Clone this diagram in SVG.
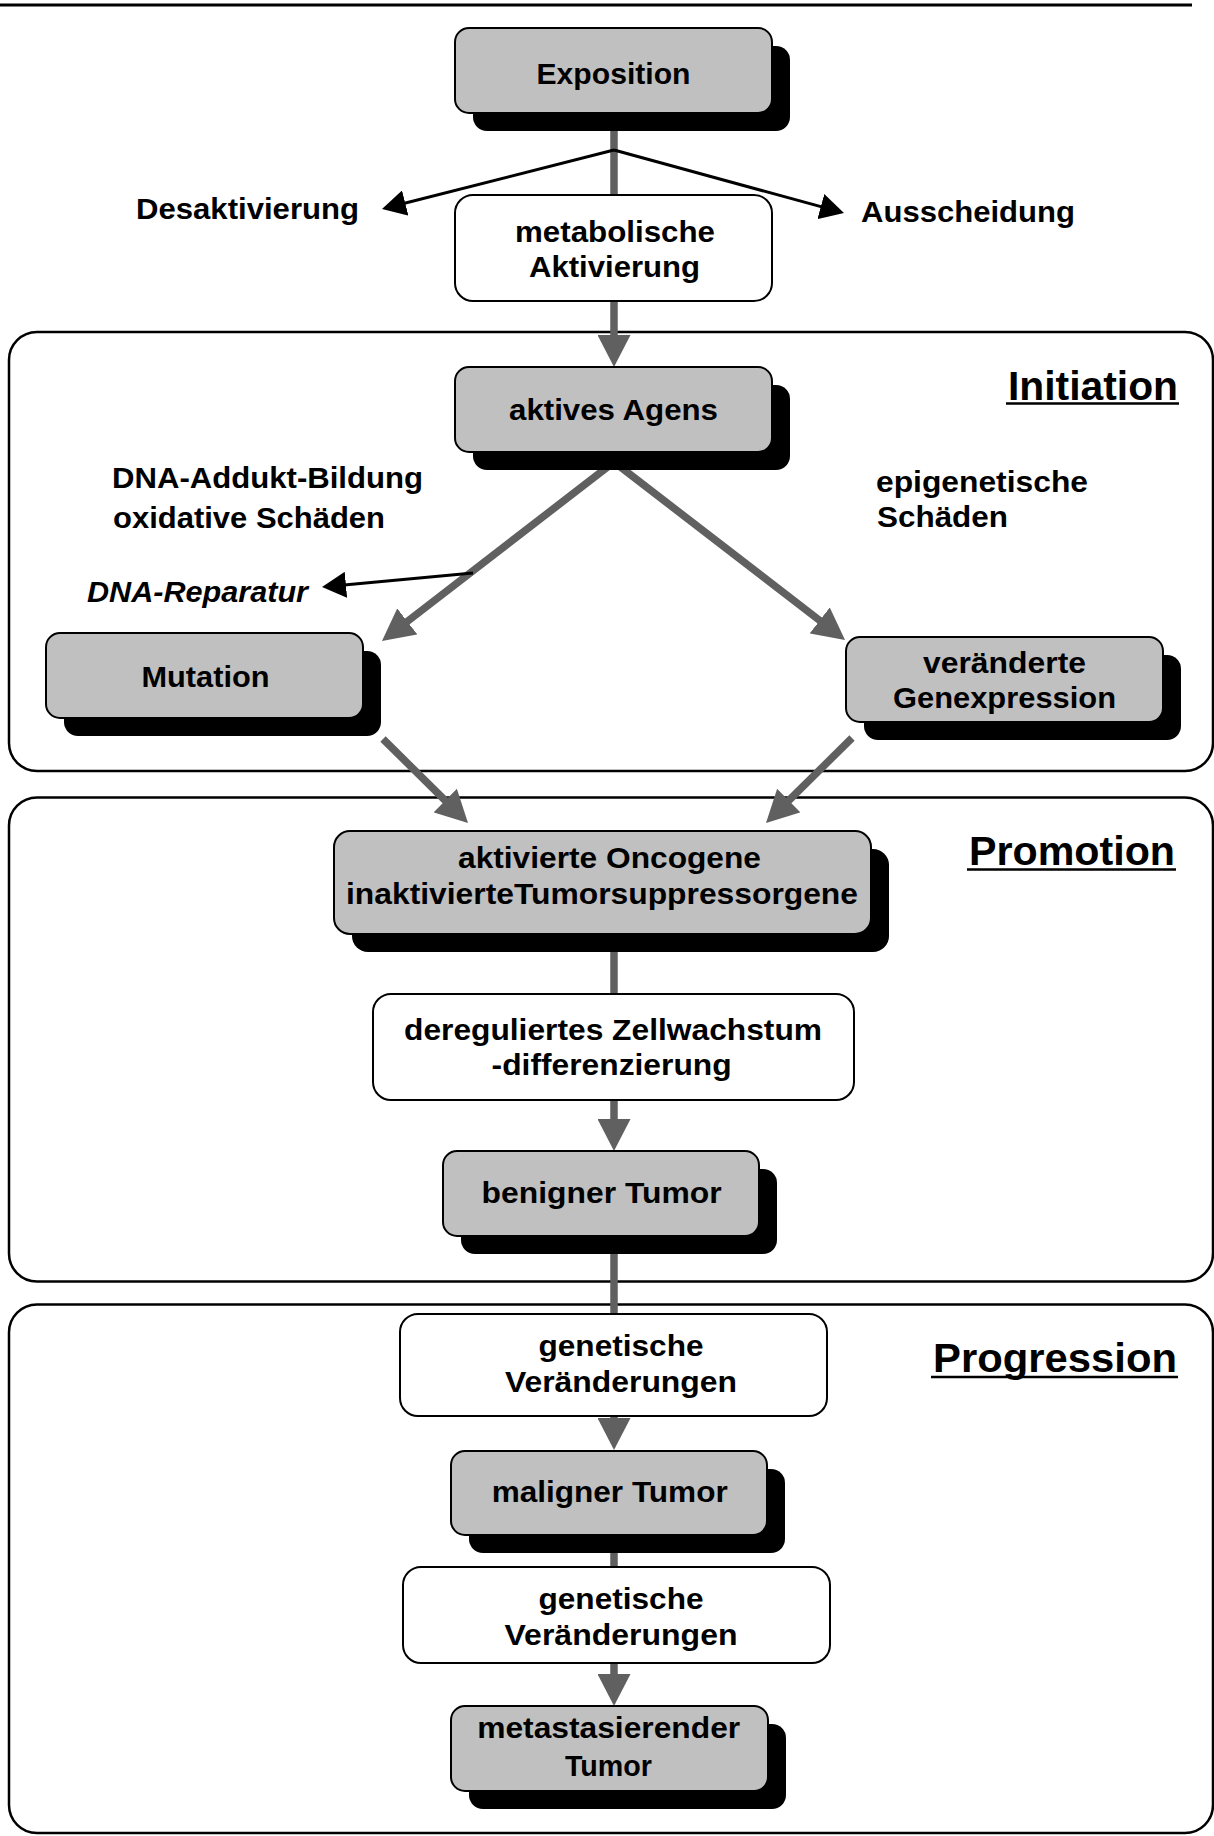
<svg xmlns="http://www.w3.org/2000/svg" width="1214" height="1836" viewBox="0 0 1214 1836">
<style>
.frame{fill:none;stroke:#000;stroke-width:2.5}
.box{fill:#c0c0c0;stroke:#000;stroke-width:2}
.wbox{fill:#fff;stroke:#000;stroke-width:2}
.shadow{fill:#000}
.g{stroke:#606060;stroke-width:7.5;fill:none}
.k{stroke:#000;stroke-width:3;fill:none}
text{font-family:"Liberation Sans",Arial,sans-serif;font-weight:bold;font-size:30px;fill:#000}
.c{text-anchor:middle}
.lbl{font-size:40px}
.it{font-style:italic}
</style>
<defs>
<marker id="ag" markerUnits="userSpaceOnUse" viewBox="0 0 32 33" markerWidth="32" markerHeight="33" refX="22" refY="16.5" orient="auto"><path d="M0,0 L32,16.5 L0,33 z" fill="#606060"/></marker>
<marker id="ak" markerUnits="userSpaceOnUse" viewBox="0 0 24 26" markerWidth="24" markerHeight="26" refX="18" refY="13" orient="auto"><path d="M0,0 L24,13 L0,26 z" fill="#000"/></marker>
</defs>
<rect width="1214" height="1836" fill="#fff"/>
<line x1="0" y1="5" x2="1192" y2="5" stroke="#000" stroke-width="3"/>
<g id="frames">
<rect id="frame-initiation" class="frame" x="9" y="332" width="1204" height="439" rx="28"/>
<rect id="frame-promotion" class="frame" x="9" y="797.5" width="1204" height="484" rx="28"/>
<rect id="frame-progression" class="frame" x="9" y="1304.5" width="1204" height="528.5" rx="28"/>
<g id="label-initiation"><text class="lbl" x="1008" y="400" textLength="170" lengthAdjust="spacingAndGlyphs">Initiation</text><line x1="1006" y1="403.5" x2="1179" y2="403.5" stroke="#000" stroke-width="2.5"/></g>
<g id="label-promotion"><text class="lbl" x="969" y="865" textLength="206" lengthAdjust="spacingAndGlyphs">Promotion</text><line x1="967" y1="869.5" x2="1176" y2="869.5" stroke="#000" stroke-width="2.5"/></g>
<g id="label-progression"><text class="lbl" x="933" y="1372" textLength="244" lengthAdjust="spacingAndGlyphs">Progression</text><line x1="931" y1="1377" x2="1178" y2="1377" stroke="#000" stroke-width="2.5"/></g>
</g>
<g id="connectors">
<line class="g" x1="614" y1="113" x2="614" y2="357" marker-end="url(#ag)"/>
<line class="k" x1="614" y1="150" x2="387.8" y2="207.5" marker-end="url(#ak)"/>
<line class="k" x1="614" y1="150" x2="838.2" y2="211.4" marker-end="url(#ak)"/>
<line class="g" x1="614" y1="462" x2="389.9" y2="634.9" marker-end="url(#ag)"/>
<line class="g" x1="614" y1="462" x2="837.1" y2="633.9" marker-end="url(#ag)"/>
<line class="k" x1="473" y1="573" x2="328" y2="586.4" marker-end="url(#ak)"/>
<line class="g" x1="383" y1="739" x2="460.9" y2="816" marker-end="url(#ag)"/>
<line class="g" x1="852" y1="738" x2="773.1" y2="816" marker-end="url(#ag)"/>
<line class="g" x1="614" y1="934" x2="614" y2="1141" marker-end="url(#ag)"/>
<line class="g" x1="614" y1="1236" x2="614" y2="1440" marker-end="url(#ag)"/>
<line class="g" x1="614" y1="1535" x2="614" y2="1696" marker-end="url(#ag)"/>
</g>
<g id="free-labels">
<text id="t-desakt" x="136" y="219" textLength="223" lengthAdjust="spacingAndGlyphs">Desaktivierung</text>
<text id="t-aussch" x="861" y="222" textLength="214" lengthAdjust="spacingAndGlyphs">Ausscheidung</text>
<text id="t-dna1" x="112" y="488" textLength="311" lengthAdjust="spacingAndGlyphs">DNA-Addukt-Bildung</text>
<text id="t-dna2" x="113" y="528" textLength="272" lengthAdjust="spacingAndGlyphs">oxidative Schäden</text>
<text id="t-rep" class="it" x="87" y="602" textLength="221" lengthAdjust="spacingAndGlyphs">DNA-Reparatur</text>
<text id="t-epi1" x="876" y="492" textLength="212" lengthAdjust="spacingAndGlyphs">epigenetische</text>
<text id="t-epi2" x="877" y="527" textLength="131" lengthAdjust="spacingAndGlyphs">Schäden</text>
</g>
<g id="n-exposition"><rect class="shadow" x="473" y="46" width="317" height="85" rx="14"/><rect class="box" x="455" y="28" width="317" height="85" rx="14"/><text class="c" x="613.5" y="84" textLength="154" lengthAdjust="spacingAndGlyphs">Exposition</text></g>
<g id="n-metab"><rect class="wbox" x="455" y="195" width="317" height="106" rx="18"/><text class="c" x="615" y="242" textLength="200" lengthAdjust="spacingAndGlyphs">metabolische</text><text class="c" x="614.5" y="277" textLength="171" lengthAdjust="spacingAndGlyphs">Aktivierung</text></g>
<g id="n-agens"><rect class="shadow" x="473" y="385" width="317" height="85" rx="14"/><rect class="box" x="455" y="367" width="317" height="85" rx="14"/><text class="c" x="613.5" y="420" textLength="209" lengthAdjust="spacingAndGlyphs">aktives Agens</text></g>
<g id="n-mutation"><rect class="shadow" x="64" y="651" width="317" height="85" rx="14"/><rect class="box" x="46" y="633" width="317" height="85" rx="14"/><text class="c" x="205.5" y="687" textLength="128" lengthAdjust="spacingAndGlyphs">Mutation</text></g>
<g id="n-genexp"><rect class="shadow" x="864" y="655" width="317" height="85" rx="14"/><rect class="box" x="846" y="637" width="317" height="85" rx="14"/><text class="c" x="1004.5" y="673" textLength="163" lengthAdjust="spacingAndGlyphs">veränderte</text><text class="c" x="1004.5" y="708" textLength="223" lengthAdjust="spacingAndGlyphs">Genexpression</text></g>
<g id="n-onco"><rect class="shadow" x="352" y="849" width="537" height="103" rx="16"/><rect class="box" x="334" y="831" width="537" height="103" rx="16"/><text class="c" x="609.5" y="868" textLength="303" lengthAdjust="spacingAndGlyphs">aktivierte Oncogene</text><text class="c" x="602" y="904" textLength="512" lengthAdjust="spacingAndGlyphs">inaktivierteTumorsuppressorgene</text></g>
<g id="n-dereg"><rect class="wbox" x="373" y="994" width="481" height="106" rx="18"/><text class="c" x="613" y="1040" textLength="418" lengthAdjust="spacingAndGlyphs">dereguliertes Zellwachstum</text><text class="c" x="611.6" y="1075" textLength="240" lengthAdjust="spacingAndGlyphs">-differenzierung</text></g>
<g id="n-benign"><rect class="shadow" x="461" y="1169" width="316" height="85" rx="14"/><rect class="box" x="443" y="1151" width="316" height="85" rx="14"/><text class="c" x="601.6" y="1203" textLength="240" lengthAdjust="spacingAndGlyphs">benigner Tumor</text></g>
<g id="n-genet1"><rect class="wbox" x="400" y="1314" width="427" height="102" rx="18"/><text class="c" x="621" y="1356" textLength="165" lengthAdjust="spacingAndGlyphs">genetische</text><text class="c" x="621" y="1392" textLength="232" lengthAdjust="spacingAndGlyphs">Veränderungen</text></g>
<g id="n-malign"><rect class="shadow" x="469" y="1469" width="316" height="84" rx="14"/><rect class="box" x="451" y="1451" width="316" height="84" rx="14"/><text class="c" x="609.7" y="1502" textLength="236" lengthAdjust="spacingAndGlyphs">maligner Tumor</text></g>
<g id="n-genet2"><rect class="wbox" x="403" y="1567" width="427" height="96" rx="18"/><text class="c" x="621" y="1609" textLength="165" lengthAdjust="spacingAndGlyphs">genetische</text><text class="c" x="621" y="1645" textLength="233" lengthAdjust="spacingAndGlyphs">Veränderungen</text></g>
<g id="n-metast"><rect class="shadow" x="469" y="1724" width="317" height="85" rx="14"/><rect class="box" x="451" y="1706" width="317" height="85" rx="14"/><text class="c" x="608.7" y="1738" textLength="263" lengthAdjust="spacingAndGlyphs">metastasierender</text><text class="c" x="608.4" y="1776" textLength="87" lengthAdjust="spacingAndGlyphs">Tumor</text></g>
</svg>
